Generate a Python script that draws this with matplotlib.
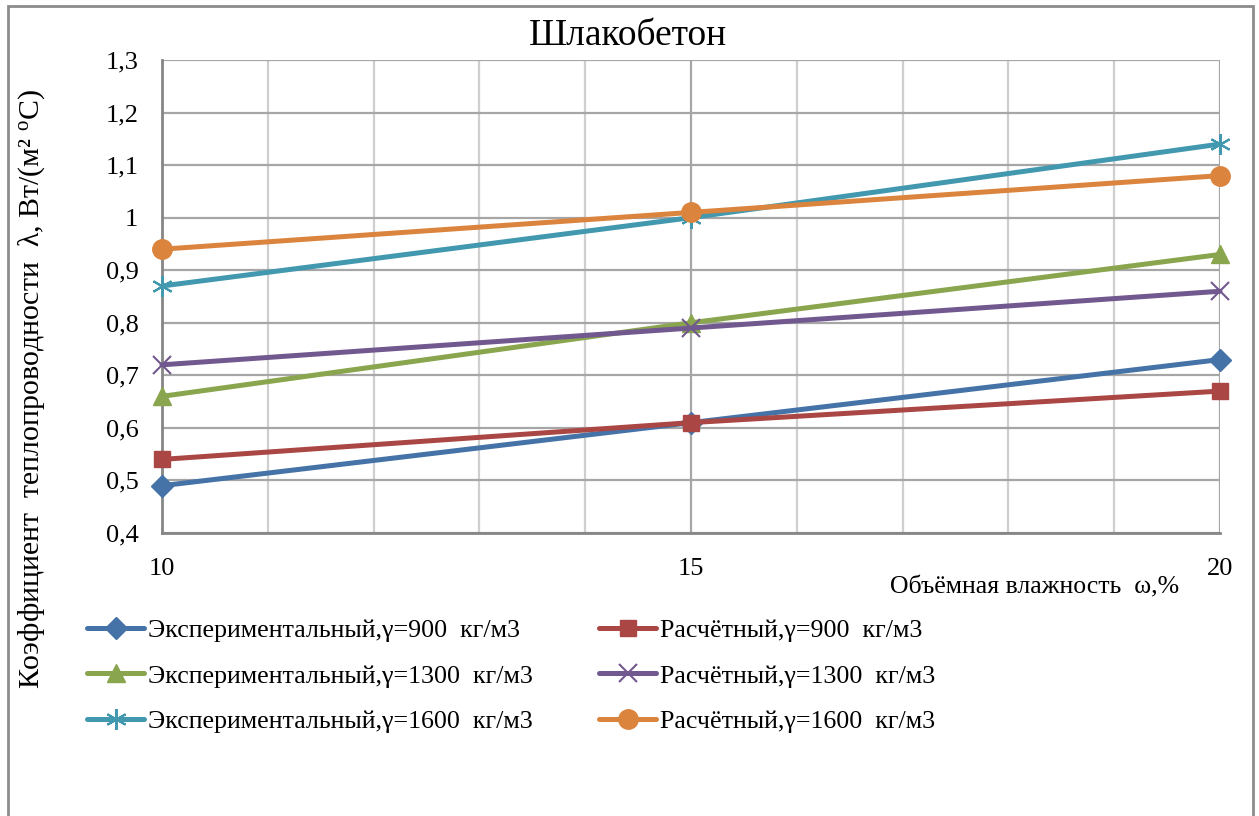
import matplotlib
matplotlib.use("Agg")
import matplotlib.pyplot as plt
from matplotlib.patches import Rectangle
from matplotlib.ticker import MultipleLocator, FuncFormatter

plt.rcParams['font.family'] = ['Liberation Serif', 'DejaVu Serif']
plt.rcParams['mathtext.fontset'] = 'custom'
plt.rcParams['mathtext.rm'] = 'Liberation Serif'
plt.rcParams['mathtext.it'] = 'Liberation Serif:italic'

# Moisture content, %
moisture = [10, 15, 20]

# Thermal conductivity values, W/(m·°C)
exp_900 = [0.49, 0.61, 0.73]
calc_900 = [0.54, 0.61, 0.67]
exp_1300 = [0.66, 0.80, 0.93]
calc_1300 = [0.72, 0.79, 0.86]
exp_1600 = [0.87, 1.00, 1.14]
calc_1600 = [0.94, 1.01, 1.08]

labels_exp = ["Экспериментальный,γ=900  кг/м3",
              "Экспериментальный,γ=1300  кг/м3",
              "Экспериментальный,γ=1600  кг/м3"]
labels_calc = ["Расчётный,γ=900  кг/м3",
               "Расчётный,γ=1300  кг/м3",
               "Расчётный,γ=1600  кг/м3"]

title = "Шлакобетон"
xlabel = "Объёмная влажность  ω,%"
ylabel = "Коэффициент  теплопроводности  λ, Вт/(м² $^{\\mathrm{o}}$С)"

W, H = 1259, 816
fig = plt.figure(figsize=(W / 100, H / 100), dpi=100)
ax = fig.add_axes([162 / W, 1 - 533 / H, (1220 - 162) / W, (533 - 60) / H])

lw = 3.6
styles = [
    (exp_900, labels_exp[0], '#4572A7', dict(marker='D', markersize=11)),
    (exp_1300, labels_exp[1], '#89A54E', dict(marker='^', markersize=13)),
    (exp_1600, labels_exp[2], '#4198AF', dict(marker=(6, 2, 0), markersize=15, markeredgewidth=1.5)),
    (calc_900, labels_calc[0], '#AA4643', dict(marker='s', markersize=12)),
    (calc_1300, labels_calc[1], '#71588F', dict(marker='x', markersize=13, markeredgewidth=1.5)),
    (calc_1600, labels_calc[2], '#DB843D', dict(marker='o', markersize=14)),
]
draw_order = [0, 3, 1, 4, 2, 5]
handles = [None] * 6
for i in draw_order:
    vals, lab, col, mk = styles[i]
    h, = ax.plot(moisture, vals, color=col, lw=lw, label=lab,
                 markerfacecolor=col, markeredgecolor=col,
                 solid_capstyle='round', clip_on=False, zorder=3, **mk)
    handles[i] = h

ax.set_xlim(10, 20)
ax.set_ylim(0.4, 1.3)
ax.xaxis.set_major_locator(MultipleLocator(5))
ax.xaxis.set_minor_locator(MultipleLocator(1))
ax.yaxis.set_major_locator(MultipleLocator(0.1))


def comma_label(v, pos=None):
    if abs(v - round(v)) < 1e-9:
        return str(int(round(v)))
    return f"{v:.1f}".replace('.', ',')


ax.yaxis.set_major_formatter(FuncFormatter(comma_label))

ax.grid(True, which='major', axis='both', color='#A6A6A6', lw=1.6, zorder=0)
ax.grid(True, which='minor', axis='x', color='#CFCFCF', lw=1.6, zorder=0)
ax.set_axisbelow(True)

for s in ['top', 'right']:
    ax.spines[s].set_visible(False)
for s in ['left', 'bottom']:
    ax.spines[s].set_color('#868686')
    ax.spines[s].set_linewidth(2)

ax.tick_params(which='both', length=0)
ax.tick_params(axis='y', pad=17, labelsize=19)
ax.tick_params(axis='x', pad=18, labelsize=19)

fig.text(628 / W, 1 - 36 / H, title, fontsize=27, ha='center', va='center')
fig.text(1035 / W, 1 - 587 / H, xlabel, fontsize=18.5, ha='center', va='center')
fig.text(32 / W, 1 - 389 / H, ylabel, fontsize=21.5, rotation=90, ha='center', va='center')

leg = fig.legend(handles=handles, ncol=2, loc='upper left',
                 bbox_to_anchor=(87 / W, 1 - 619 / H), frameon=False,
                 fontsize=18.75, handlelength=2.19, handletextpad=0.15,
                 columnspacing=2.55, labelspacing=0.85, borderaxespad=0,
                 borderpad=0)

fig.patches.append(Rectangle((8 / W, -0.1), (1253 - 8) / W, 1.1 - 6 / H,
                             transform=fig.transFigure, fill=False,
                             edgecolor='#8C8C8C', lw=2))

fig.savefig("out.png", dpi=100)
